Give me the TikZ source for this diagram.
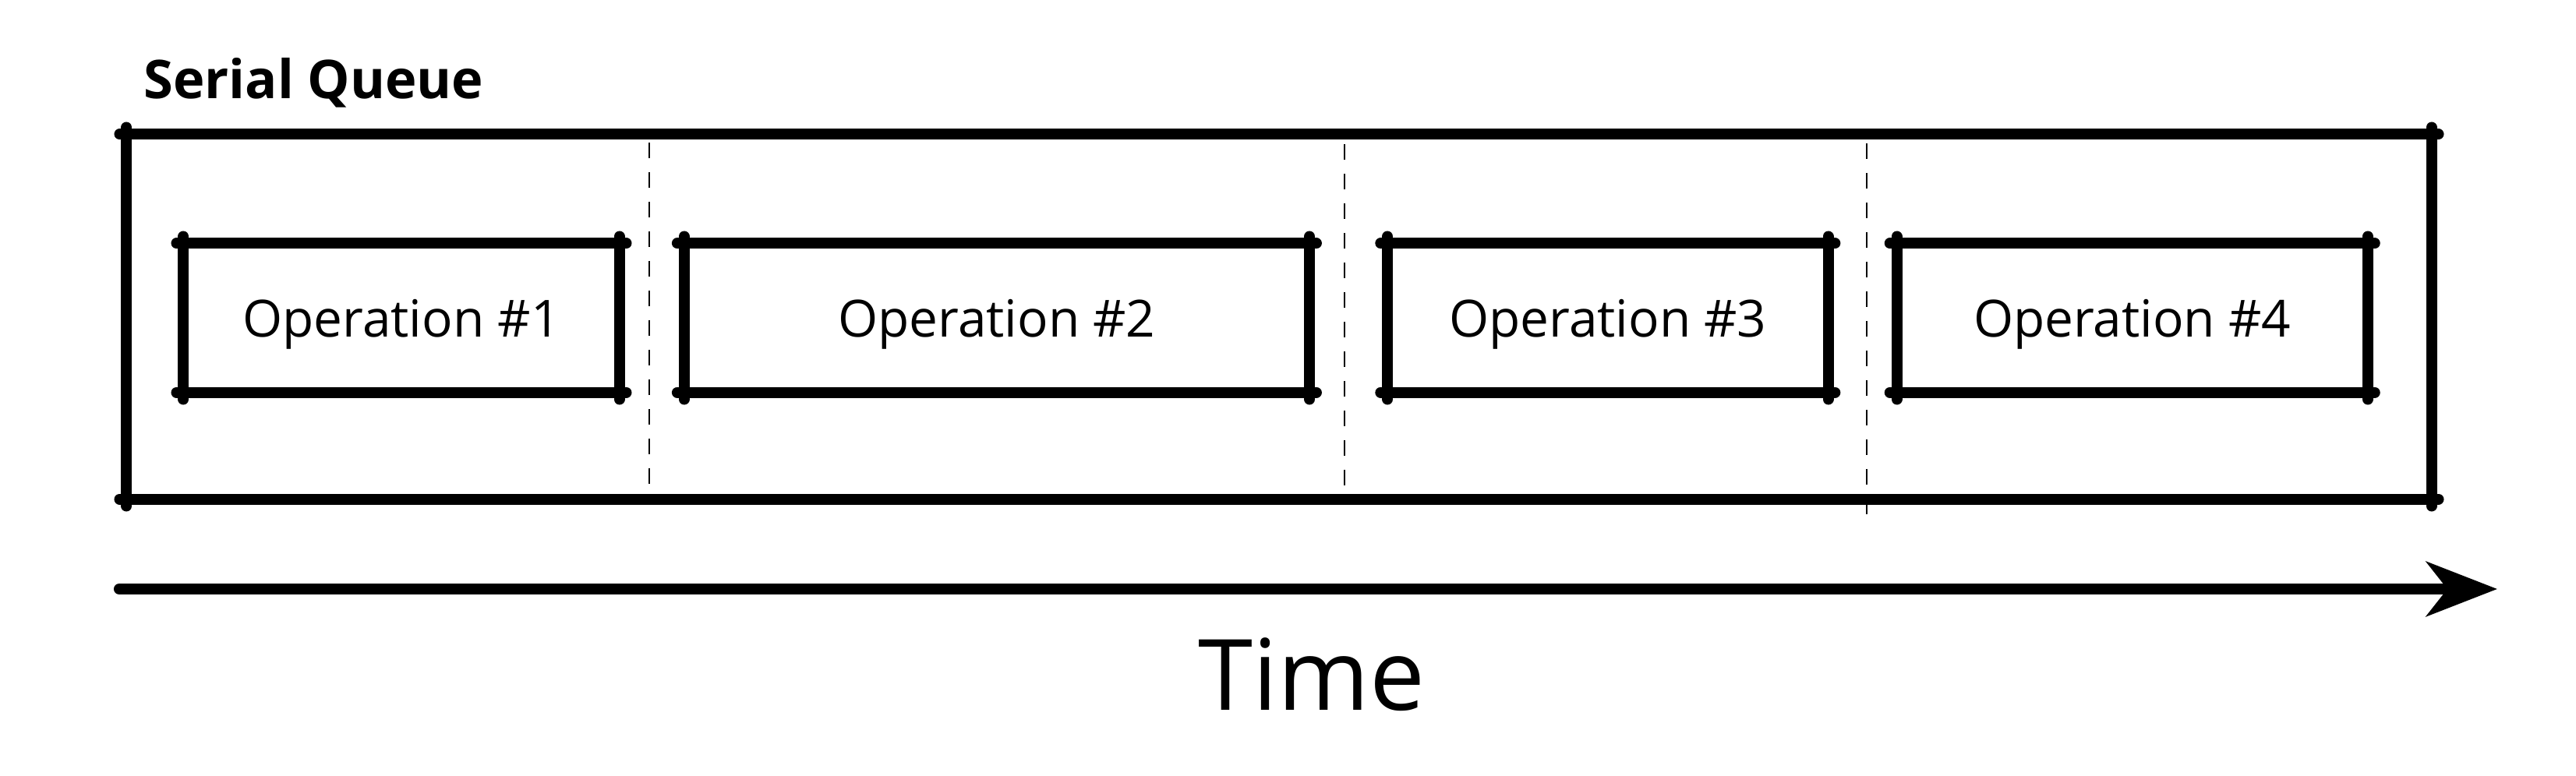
\documentclass[tikz,border=0pt]{standalone}
\usepackage{fontspec}
\setmainfont{Open Sans}
\usepackage{tikz}
\usetikzlibrary{arrows.meta,positioning}

\tikzset{
	sketch/.style={line width=4pt, line cap=round, shorten <=-2.5pt, shorten >=-2.5pt},
	opbox/.style={minimum height=1.9cm, inner sep=0pt, text depth=0pt, font=\fontsize{18.7}{22}\selectfont},
	divider/.style={line width=0.8pt, dash pattern=on 0.2cm off 0.18cm}
}
\newcommand{\sketchbox}[1]{%
	\draw[sketch] (#1.north west) -- (#1.north east);
	\draw[sketch] (#1.north east) -- (#1.south east);
	\draw[sketch] (#1.south east) -- (#1.south west);
	\draw[sketch] (#1.south west) -- (#1.north west);
}

\begin{document}
\begin{tikzpicture}[
			timeline/.style={line width=4pt, line cap=round, -{Stealth[length=0.91cm, width=0.7cm, inset=0.27cm]}}
			]
				\useasboundingbox (0,0) rectangle (33.05,9.96);

				\node[anchor=base west, font=\bfseries\fontsize{19.5}{23}\selectfont] (title) at (1.72,8.69) {Serial Queue};
				\node[minimum width=29.56cm, minimum height=4.67cm, inner sep=0pt] (queue) at (16.41,5.895) {};
				\sketchbox{queue}

				\node[opbox, minimum width=5.58cm] (op1) at (5.15,5.88) {Operation \#1};
				\node[opbox, minimum width=8.01cm, right=0.83cm of op1] (op2) {Operation \#2};
				\node[opbox, minimum width=5.64cm, right=1.0cm of op2] (op3) {Operation \#3};
				\node[opbox, minimum width=6.03cm, right=0.88cm of op3] (op4) {Operation \#4};
				\foreach \op in {op1,op2,op3,op4} {\sketchbox{\op}}

				\coordinate (d1a) at (8.33,8.13);  \coordinate (d1b) at (8.33,3.62);
				\coordinate (d2a) at (17.25,8.11); \coordinate (d2b) at (17.25,3.64);
				\coordinate (d3a) at (23.95,8.12); \coordinate (d3b) at (23.95,3.35);
				\draw[divider] (d1a) -- (d1b);
				\draw[divider] (d2a) -- (d2b);
				\draw[divider] (d3a) -- (d3b);

				\coordinate (tstart) at (1.53,2.40);
				\coordinate (tend) at (32.04,2.40);
				\draw[timeline] (tstart) -- (tend);
				\node[anchor=base, font=\fontsize{36}{40}\selectfont] (time) at (16.83,0.84) {Time};

			\end{tikzpicture}
\end{document}
